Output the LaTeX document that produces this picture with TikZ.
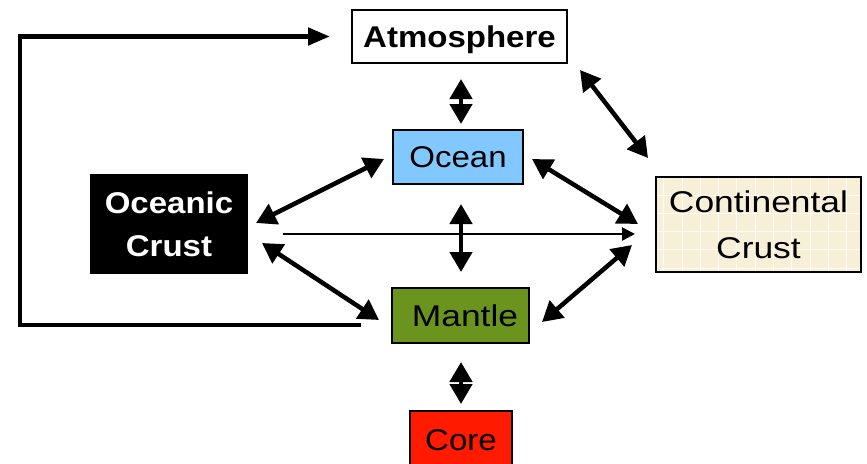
\documentclass[tikz,border=0pt]{standalone}
\usepackage{fontspec}
\setmainfont[FakeStretch=1.1]{Liberation Sans}
\newfontfamily\widefont[FakeStretch=1.18]{Liberation Sans}
\usetikzlibrary{arrows.meta}
\definecolor{oceanblue}{RGB}{128,200,255}
\definecolor{mantlegreen}{RGB}{107,148,30}
\definecolor{corered}{RGB}{255,26,0}
\definecolor{crustcream}{RGB}{247,239,216}
\definecolor{gridline}{RGB}{255,252,242}
\begin{document}
\begin{tikzpicture}[x=1pt,y=-1pt,
  box/.style={draw=black, line width=1.5pt, inner sep=0pt, outer sep=0pt,
    align=center, font=\fontsize{30}{44}\selectfont},
  dbl/.style={line width=4.5pt,
    {Triangle[length=20pt,width=22pt]}-{Triangle[length=20pt,width=22pt]}},
  onearrow/.style={line width=2.6pt, -{Triangle[length=13pt,width=13pt]}},
  loopline/.style={line width=4.8pt, -{Triangle[length=22pt,width=17pt]}}]
\clip (0,0) rectangle (867,463);
\fill[white] (0,0) rectangle (867,463);
% nodes
\node[box, minimum width=215pt, minimum height=53pt, text depth=0pt,
  font=\fontsize{30}{44}\selectfont\bfseries] (atm) at (459.5,36.5) {Atmosphere};
\node[box, fill=oceanblue, minimum width=130pt, minimum height=54pt] (ocean) at (458,157) {Ocean};
\node[box, fill=black, text=white, minimum width=156pt, minimum height=98pt,
  font=\fontsize{30}{43}\selectfont\bfseries] (oc) at (169,224) {Oceanic\\Crust};
\node[box, fill=crustcream, minimum width=205pt, minimum height=95pt,
  font=\fontsize{30}{46}\widefont,
  path picture={
    \foreach \i in {0,...,10}
      \draw[gridline, line width=1pt]
        ([xshift=7.7pt+\i*18.3pt]path picture bounding box.north west) --
        ([xshift=7.7pt+\i*18.3pt]path picture bounding box.south west);
    \foreach \j in {1,...,5}
      \draw[gridline, line width=1pt]
        ([yshift=-\j*18.2pt]path picture bounding box.north west) --
        ([yshift=-\j*18.2pt]path picture bounding box.north east);
  }] (cc) at (758.5,224.5) {Continental\\Crust};
\node[box, fill=mantlegreen, minimum width=137pt, minimum height=55pt,
  font=\fontsize{30}{44}\widefont] (mantle) at (460.5,315.5) {\hspace*{9pt}Mantle};
\node[box, fill=corered, minimum width=102pt, minimum height=58pt] (core) at (461,440) {Core};
% connectors
\draw[dbl] ([shift={(1.5,16)}]atm.south) -- ([shift={(3,-6)}]ocean.north);
\draw[dbl] ([shift={(13,7)}]atm.south east) -- ([shift={(-8,-19)}]cc.north west);
\draw[dbl] ([shift={(9,2)}]ocean.east) -- ([shift={(-18,-0.5)}]cc.west);
\draw[dbl] ([shift={(9,-1)}]oc.east) -- ([shift={(-9,2)}]ocean.west);
\draw[dbl] ([shift={(3,20)}]ocean.south) -- ([shift={(0.5,-16)}]mantle.north);
\draw[dbl] ([shift={(15,19)}]oc.east) -- ([shift={(-13,4.5)}]mantle.west);
\draw[dbl] ([shift={(13,6.5)}]mantle.east) -- ([shift={(-24,20.5)}]cc.west);
\draw[dbl] ([shift={(0.5,19)}]mantle.south) -- ([shift={(0,-7)}]core.north);
\draw[onearrow] ([shift={(36,10)}]oc.east) -- ([shift={(-21,9.5)}]cc.west);
\draw[loopline] ([shift={(-31,9.5)}]mantle.west) -- ++(-341,0) |- ([xshift=-22pt]atm.west);
\end{tikzpicture}
\end{document}
